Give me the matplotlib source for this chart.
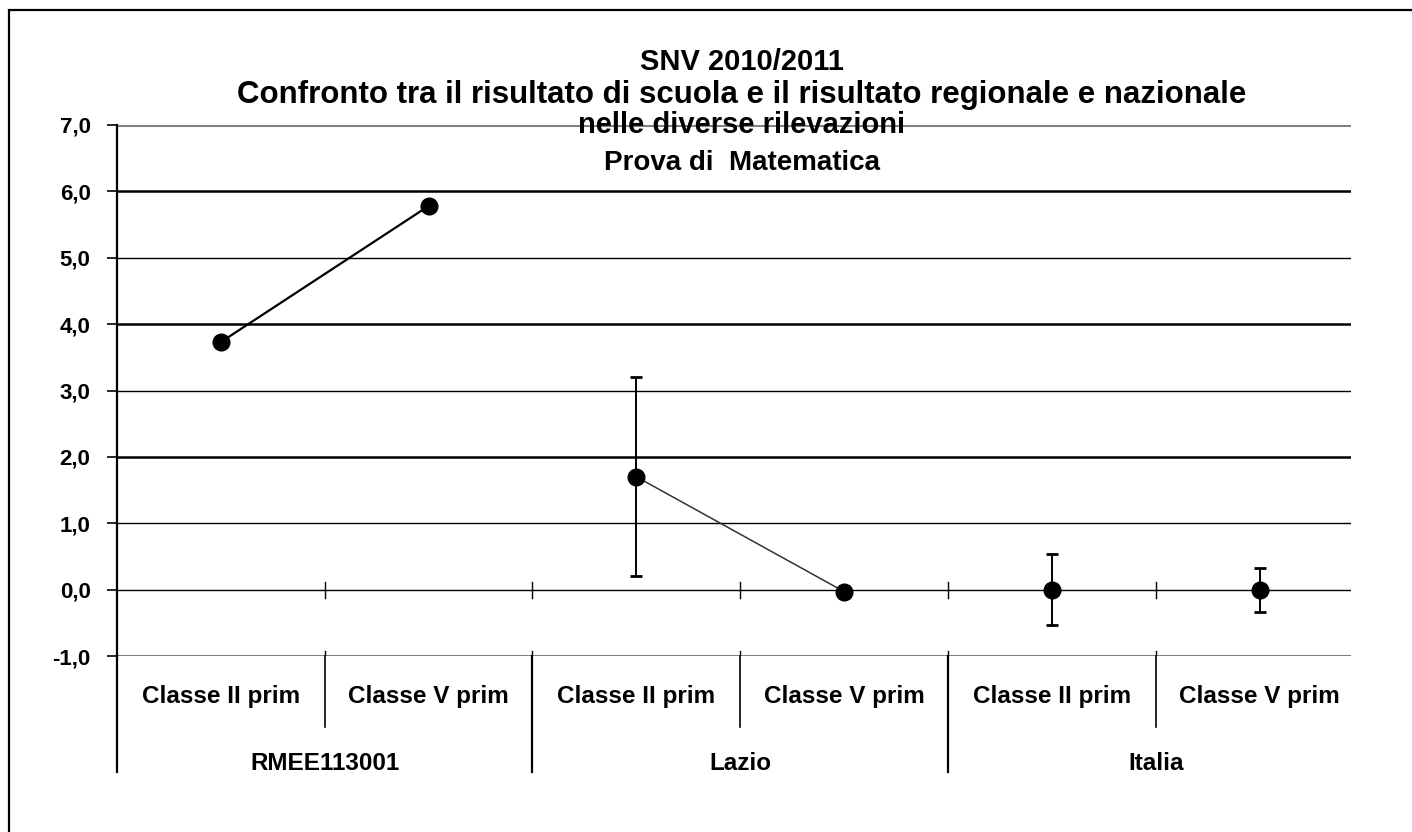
import numpy as np
import matplotlib.pyplot as plt
from matplotlib.patches import Rectangle

plt.rcParams['font.family'] = ['Liberation Sans', 'DejaVu Sans']

# dati
groups = ["RMEE113001", "Lazio", "Italia"]
classes = ["Classe II prim", "Classe V prim"]
scuola = [3.73, 5.78]
lazio = [1.70, -0.03]
lazio_err = [1.50, 0.0]
italia = [0.0, 0.0]
italia_err = [0.54, 0.33]
yticks = [-1, 0, 1, 2, 3, 4, 5, 6, 7]

title_lines = ["SNV 2010/2011",
               "Confronto tra il risultato di scuola e il risultato regionale e nazionale",
               "nelle diverse rilevazioni",
               "Prova di  Matematica"]

W, H = 1412, 832
fig = plt.figure(figsize=(W / 100, H / 100), dpi=100)
ax = fig.add_axes([117 / W, 1 - 656 / H, (1351 - 117) / W, (656 - 125) / H])

n = len(groups) * len(classes)
ax.set_xlim(-0.5, n - 0.5 - 0.06)
ax.set_ylim(-1, 7)

# griglia orizzontale (spessori come nell'originale)
for v in yticks:
    if v in (7, -1):
        ax.axhline(v, color="#808080", lw=2.2, zorder=1)
    elif v in (6, 4, 2):
        ax.axhline(v, color="black", lw=1.8, zorder=1)
    else:
        ax.axhline(v, color="black", lw=1.0, zorder=1)

# tacche sull'asse x (y=0)
for b in np.arange(-0.5, n, 1.0)[1:]:
    ax.plot([b, b], [-0.12, 0.12], color="black", lw=1.0, zorder=2)
    ax.plot([b, b], [-1, -0.93], color="black", lw=1.0, zorder=2)

x = np.arange(n)
# scuola
ax.plot(x[0:2], scuola, color="black", lw=1.6, marker="o", ms=12, zorder=4)
# Lazio
ax.plot(x[2:4], lazio, color="#333333", lw=1.1, zorder=3)
ax.errorbar(x[2:4], lazio, yerr=lazio_err, fmt="o", color="black", ms=12,
            elinewidth=1.4, capsize=4, capthick=2, zorder=4)
# Italia
ax.errorbar(x[4:6], italia, yerr=italia_err, fmt="o", color="black", ms=12,
            elinewidth=1.4, capsize=4, capthick=2, zorder=4)

# assi
for s in ["top", "right", "bottom"]:
    ax.spines[s].set_visible(False)
ax.spines["left"].set_linewidth(1.6)
ax.spines["left"].set_bounds(-1, 7)
ax.set_xticks([])
ax.set_yticks(yticks)
ax.set_yticklabels([f"{v:.1f}".replace(".", ",") for v in yticks],
                   fontsize=16, fontweight="bold")
ax.tick_params(axis="y", length=7, width=1.2, pad=12)

# etichette categorie sotto il grafico
trans = ax.get_xaxis_transform()
y_sub = -(696 - 656) / (656 - 125)
y_grp = -(764 - 656) / (656 - 125)
y_sep = -(727 - 656) / (656 - 125)
y_gsep = -(772 - 656) / (656 - 125)
for i in range(n):
    ax.text(x[i], y_sub, classes[i % 2], transform=trans, ha="center", va="center",
            fontsize=17.5, fontweight="bold")
for g, name in enumerate(groups):
    ax.text(2 * g + 0.5, y_grp, name, transform=trans, ha="center", va="center",
            fontsize=17.5, fontweight="bold")
for b in np.arange(-0.5, n, 1.0):
    if b > n - 1:
        continue
    major = int(round(b + 0.5)) % 2 == 0
    ax.plot([b, b], [0, y_gsep if major else y_sep], transform=trans,
            color="black", lw=1.6 if major else 1.2, clip_on=False)

# titolo
sizes = [21, 22.5, 21, 20]
for txt, yy, fs in zip(title_lines, [62, 95, 125, 163], sizes):
    fig.text(742 / W, 1 - yy / H, txt, ha="center", va="center",
             fontsize=fs, fontweight="bold")

# bordo esterno
fig.patches.append(Rectangle((9 / W, -0.05), 1.1, 1 - 10 / H + 0.05,
                             transform=fig.transFigure, fill=False,
                             edgecolor="black", lw=1.6))

fig.savefig("out.png", dpi=100)
